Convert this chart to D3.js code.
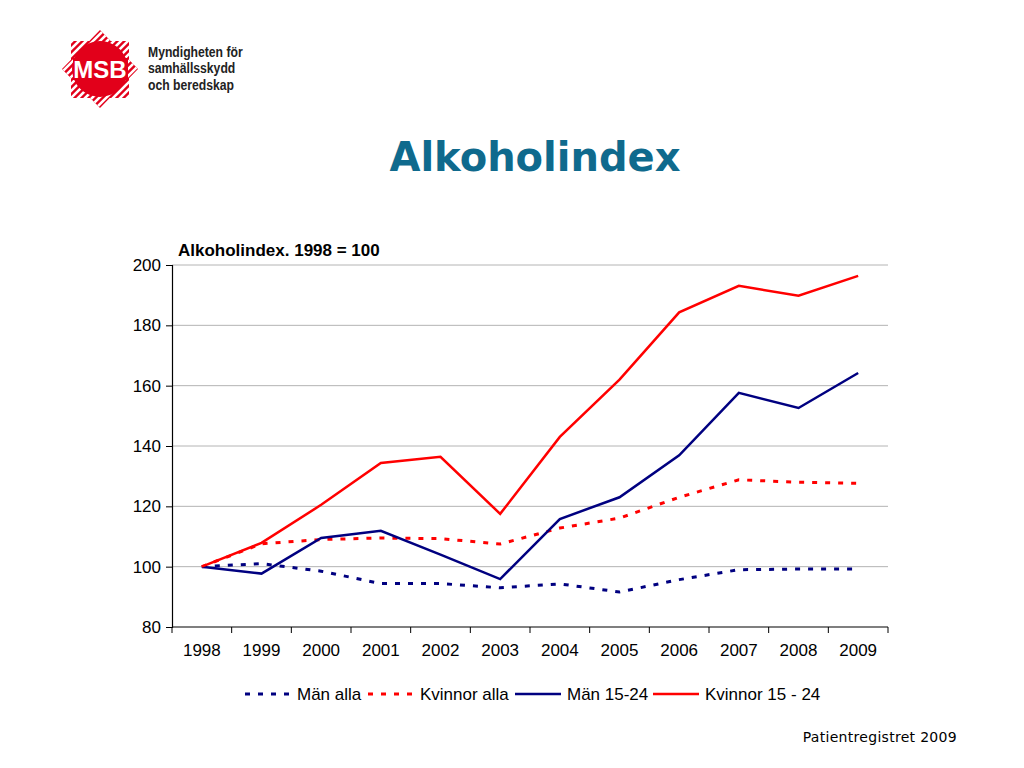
<!DOCTYPE html>
<html lang="sv">
<head>
<meta charset="UTF-8">
<script src="https://d3js.org/d3.v7.min.js"></script>
<title>Alkoholindex</title>
<style>
  body { margin: 0; background: #fff; }
  svg { display: block; font-family: "Liberation Sans", Arial, sans-serif; }
</style>
</head>
<body>
<div id="chart"></div>
<script>
// data
const years = ["1998","1999","2000","2001","2002","2003","2004","2005","2006","2007","2008","2009"];
const manAlla      = [100, 101, 98.5, 94.4, 94.4, 93, 94.3, 91.6, 95.7, 99, 99.2, 99.2];
const kvinnorAlla  = [100, 107.6, 109, 109.5, 109.3, 107.5, 112.8, 116.1, 123, 128.8, 128, 127.6];
const man1524      = [100, 97.7, 109.5, 111.9, 104, 95.9, 115.8, 123, 136.9, 157.6, 152.6, 164.2];
const kvinnor1524  = [100, 107.9, 120.5, 134.4, 136.4, 117.5, 143, 162, 184.3, 193.1, 189.8, 196.4];
const yTicks = [80, 100, 120, 140, 160, 180, 200];

const series = [
  { name: "Män alla", values: manAlla, color: "#000080", dash: "5,8" },
  { name: "Kvinnor alla", values: kvinnorAlla, color: "#ff0000", dash: "5,8" },
  { name: "Män 15-24", values: man1524, color: "#000080", dash: null },
  { name: "Kvinnor 15 - 24", values: kvinnor1524, color: "#ff0000", dash: null }
];

const width = 1024, height = 768;
const svg = d3.select("#chart").append("svg")
  .attr("width", width).attr("height", height);

// logo: striped star (square + diamond), solid centre, MSB box
const logo = svg.append("g").attr("transform", "translate(100,69)");
const clip = svg.append("defs").append("clipPath").attr("id", "star");
clip.append("path").attr("d", "M0,-39L38,0L0,39L-38,0Z");
clip.append("rect").attr("x", -29).attr("y", -28).attr("width", 58).attr("height", 57);
const lg = logo.append("g").attr("clip-path", "url(#star)");
lg.append("rect").attr("x", -45).attr("y", -45).attr("width", 90).attr("height", 90).attr("fill", "#e2001a");
d3.range(-98, 99, 7).forEach(o => {
  lg.append("line")
    .attr("x1", o - 60).attr("y1", 60).attr("x2", o + 60).attr("y2", -60)
    .attr("stroke", "#fff").attr("stroke-width", 2.6);
});
logo.append("circle").attr("r", 28).attr("fill", "#e2001a");
logo.append("rect").attr("x", -27).attr("y", -11).attr("width", 55).attr("height", 22)
  .attr("fill", "#e2001a");
logo.append("text").attr("text-anchor", "middle").attr("y", 9)
  .attr("fill", "#fff").attr("font-size", 24).attr("font-weight", "bold")
  .attr("font-family", "Liberation Sans, Arial, sans-serif").text("MSB");

const logoText = ["Myndigheten för", "samhällsskydd", "och beredskap"];
svg.append("g").attr("transform", "translate(148,0) scale(0.87,1)")
  .selectAll("text").data(logoText).join("text")
  .attr("x", 0).attr("y", (d, i) => 57 + i * 16.5)
  .attr("font-size", 14).attr("font-weight", "bold").attr("fill", "#222")
  .text(d => d);

// main title
svg.append("text").attr("x", 535).attr("y", 171).attr("text-anchor", "middle")
  .attr("font-family", "DejaVu Sans, Verdana, sans-serif")
  .attr("font-size", 40).attr("font-weight", "bold").attr("fill", "#0f6a8d")
  .text("Alkoholindex");

// chart
const mLeft = 172, mRight = 888, mTop = 265, mBottom = 627;
const x = d3.scaleBand().domain(years).range([mLeft, mRight]);
const y = d3.scaleLinear().domain([80, 200]).range([mBottom, mTop]);

svg.append("g").selectAll("line").data(yTicks.filter(t => t > 80)).join("line")
  .attr("x1", mLeft).attr("x2", mRight)
  .attr("y1", d => y(d)).attr("y2", d => y(d))
  .attr("stroke", "#b4b4b4").attr("stroke-width", 1);

const yAxis = svg.append("g").attr("transform", `translate(${mLeft},0)`)
  .call(d3.axisLeft(y).tickValues(yTicks).tickSize(6).tickPadding(5));
const xAxis = svg.append("g").attr("transform", `translate(0,${mBottom})`)
  .call(d3.axisBottom(x).tickSize(0).tickPadding(17));
// category separator ticks
svg.append("g").selectAll("line").data(years.concat(["end"])).join("line")
  .attr("x1", (d, i) => mLeft + i * x.step()).attr("x2", (d, i) => mLeft + i * x.step())
  .attr("y1", mBottom).attr("y2", mBottom + 6)
  .attr("stroke", "#000").attr("stroke-width", 1);

[yAxis, xAxis].forEach(a => {
  a.select(".domain").attr("stroke", "#000").attr("stroke-width", 1.2);
  a.selectAll(".tick line").attr("stroke", "#000");
  a.selectAll("text").attr("font-size", 17).attr("fill", "#000")
    .attr("font-family", "Liberation Sans, Arial, sans-serif");
});
xAxis.select(".domain").attr("d", `M${mLeft},0H${mRight}`);

svg.append("text").attr("x", 178).attr("y", 256)
  .attr("font-size", 17).attr("font-weight", "bold").attr("fill", "#000")
  .text("Alkoholindex. 1998 = 100");

const line = d3.line()
  .x((d, i) => x(years[i]) + x.bandwidth() / 2)
  .y(d => y(d));

svg.append("g").selectAll("path").data(series).join("path")
  .attr("d", d => line(d.values))
  .attr("fill", "none")
  .attr("stroke", d => d.color)
  .attr("stroke-width", d => d.dash ? 3 : 2.5)
  .attr("stroke-dasharray", d => d.dash);

// legend
const legendX = [245, 368, 515, 653];
const legend = svg.append("g").selectAll("g").data(series).join("g")
  .attr("transform", (d, i) => `translate(${legendX[i]},694)`);
legend.append("line").attr("x1", 0).attr("x2", 46).attr("y1", 0).attr("y2", 0)
  .attr("stroke", d => d.color).attr("stroke-width", d => d.dash ? 3 : 2.5)
  .attr("stroke-dasharray", d => d.dash ? "5,8" : null);
legend.append("text").attr("x", 52).attr("y", 6)
  .attr("font-size", 17).attr("fill", "#000").text(d => d.name);

svg.append("text").attr("x", 957).attr("y", 742).attr("text-anchor", "end")
  .attr("font-size", 14).attr("fill", "#000")
  .attr("font-family", "DejaVu Sans, Verdana, sans-serif")
  .attr("letter-spacing", 0.3)
  .text("Patientregistret 2009");
</script>
</body>
</html>
